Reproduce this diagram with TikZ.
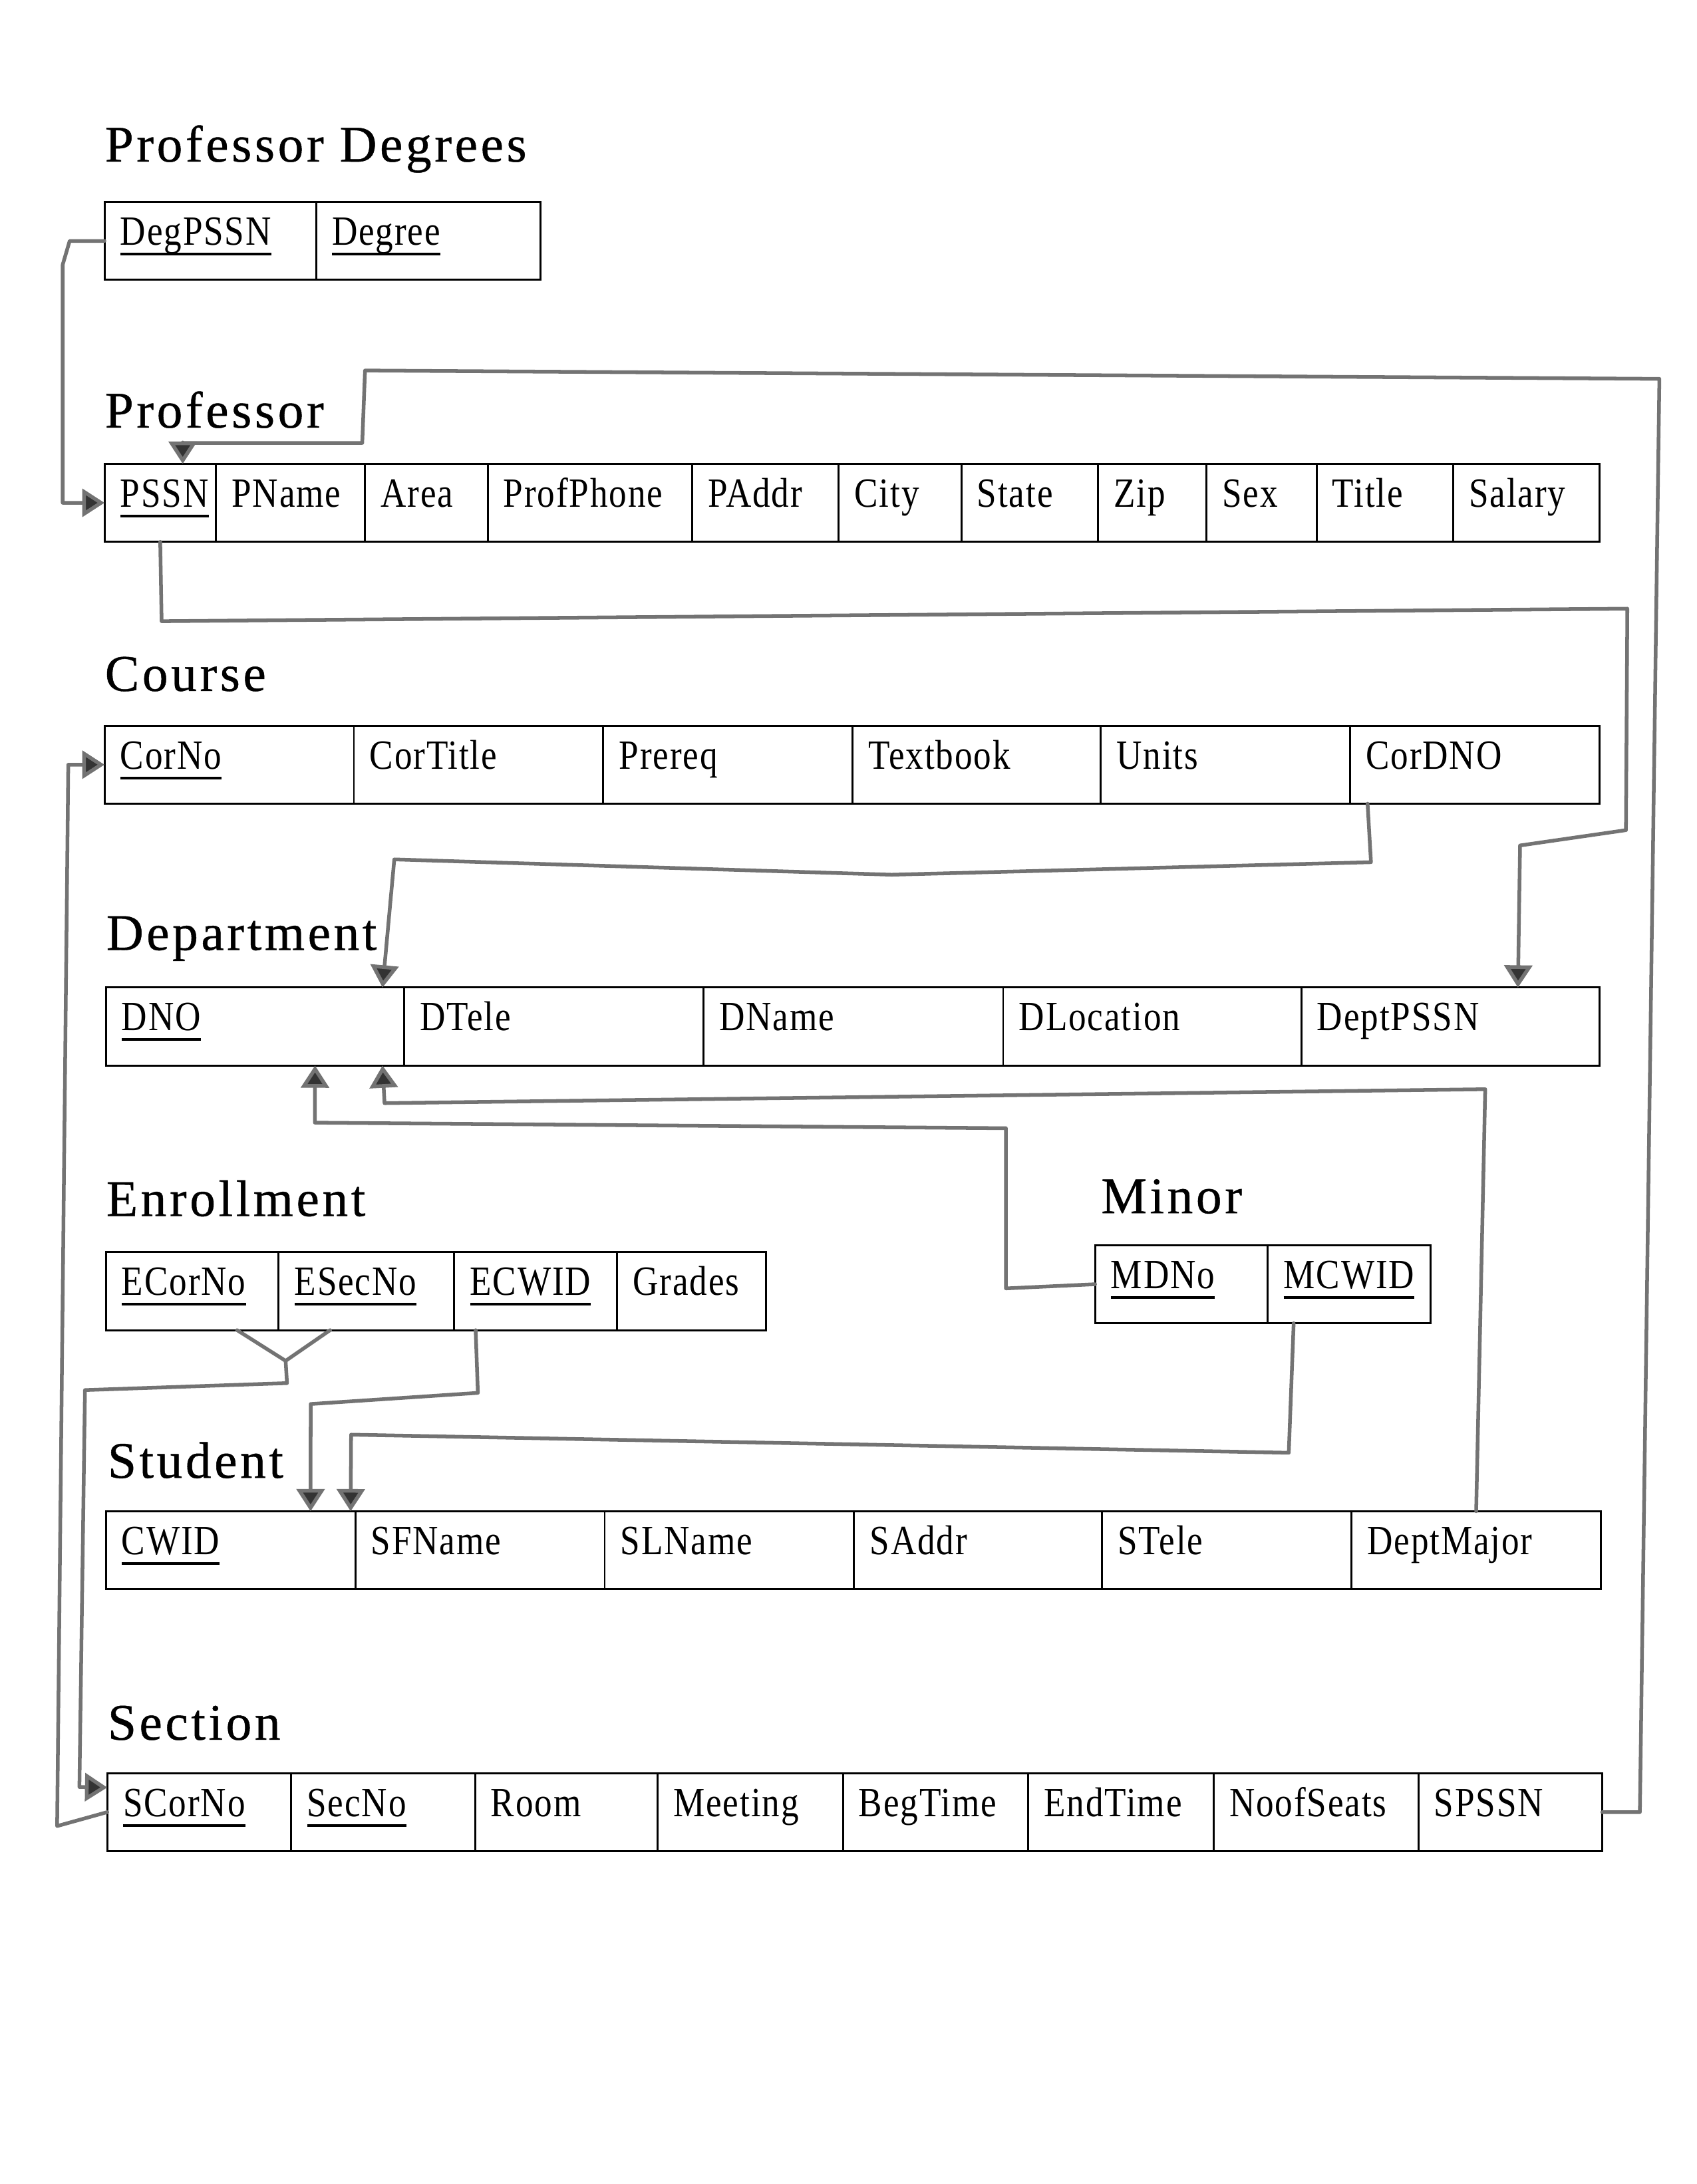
\documentclass[tikz,border=0pt]{standalone}
\usepackage{fontspec}
\setmainfont{Liberation Serif}
\newfontfamily\attrfont[FakeStretch=0.85,LetterSpace=3]{Liberation Serif}
\newfontfamily\relfont[LetterSpace=6,FakeBold=0.6]{Liberation Serif}
\usetikzlibrary{calc,arrows.meta}
\newcommand{\pk}[1]{\setbox0\hbox{#1}\rlap{\rule[-4.2pt]{\wd0}{1.1pt}}\box0}
\newcommand{\attrcell}[5]{%
	\node[attrbox, minimum width=#4*0.02cm, anchor=north west] (#1) at (#2,#3) {};
	\node[attrtext, anchor=base west] (#1-t) at ($(#1.north west)+(11,31)$) {#5};}
\tikzset{
	attrbox/.style={draw, line width=0.8pt, inner sep=0pt, outer sep=0pt, minimum height=1.12cm},
	attrtext/.style={inner sep=0pt, font=\attrfont\fontsize{17}{20}\selectfont},
	reltitle/.style={inner sep=0pt, anchor=base west, font=\relfont\fontsize{21}{25}\selectfont},
	fkline/.style={draw=black!55, line width=1.5pt, line cap=round, line join=round},
	fk/.style={fkline, -{Triangle[length=0.32cm, width=0.4cm, fill=black!80]}}
}

\begin{document}
\begin{tikzpicture}[x=0.02cm, y=-0.02cm]
			%%%%% START %%%%%
			
			\fill[white] (0,0) rectangle (1218,1568);
			\useasboundingbox (0,0) rectangle (1218,1568);
			
			% Professor Degrees
			\node[reltitle] (degtitle) at (75,116) {Professor Degrees};
			\attrcell{dpssn}{75}{145}{152}{\pk{DegPSSN}}
			\attrcell{degree}{227}{145}{161}{\pk{Degree}}
			
			% Professor
			\node[reltitle] (proftitle) at (75,307) {Professor};
			\attrcell{pssn}{75}{333}{80}{\pk{PSSN}}
			\attrcell{pname}{155}{333}{107}{PName}
			\attrcell{area}{262}{333}{88}{Area}
			\attrcell{profphone}{350}{333}{147}{ProfPhone}
			\attrcell{paddr}{497}{333}{105}{PAddr}
			\attrcell{city}{602}{333}{88}{City}
			\attrcell{state}{690}{333}{98}{State}
			\attrcell{zip}{788}{333}{78}{Zip}
			\attrcell{sex}{866}{333}{79}{Sex}
			\attrcell{ptitle}{945}{333}{98}{Title}
			\attrcell{salary}{1043}{333}{105}{Salary}
			
			% Course
			\node[reltitle] (cortitle) at (75,496) {Course};
			\attrcell{corno}{75}{521}{179}{\pk{CorNo}}
			\attrcell{cortit}{254}{521}{179}{CorTitle}
			\attrcell{prereq}{433}{521}{179}{Prereq}
			\attrcell{textbook}{612}{521}{178}{Textbook}
			\attrcell{units}{790}{521}{179}{Units}
			\attrcell{cordno}{969}{521}{179}{CorDNO}
			
			% Department
			\node[reltitle] (depttitle) at (76,682) {Department};
			\attrcell{dno}{76}{709}{214}{\pk{DNO}}
			\attrcell{dtele}{290}{709}{215}{DTele}
			\attrcell{dname}{505}{709}{215}{DName}
			\attrcell{dloc}{720}{709}{214}{DLocation}
			\attrcell{deptpssn}{934}{709}{214}{DeptPSSN}
			
			% Enrollment
			\node[reltitle] (enrtitle) at (76,873) {Enrollment};
			\attrcell{ecorno}{76}{899}{124}{\pk{ECorNo}}
			\attrcell{esecno}{200}{899}{126}{\pk{ESecNo}}
			\attrcell{ecwid}{326}{899}{117}{\pk{ECWID}}
			\attrcell{grades}{443}{899}{107}{Grades}
			
			% Minor
			\node[reltitle] (mintitle) at (790,871) {Minor};
			\attrcell{mdno}{786}{894}{124}{\pk{MDNo}}
			\attrcell{mcwid}{910}{894}{117}{\pk{MCWID}}
			
			% Student
			\node[reltitle] (stutitle) at (77,1061) {Student};
			\attrcell{cwid}{76}{1085}{179}{\pk{CWID}}
			\attrcell{sfname}{255}{1085}{179}{SFName}
			\attrcell{slname}{434}{1085}{179}{SLName}
			\attrcell{saddr}{613}{1085}{178}{SAddr}
			\attrcell{stele}{791}{1085}{179}{STele}
			\attrcell{deptmajor}{970}{1085}{179}{DeptMajor}
			
			% Section
			\node[reltitle] (sectitle) at (77,1249) {Section};
			\attrcell{scorno}{77}{1273}{132}{\pk{SCorNo}}
			\attrcell{secno}{209}{1273}{132}{\pk{SecNo}}
			\attrcell{room}{341}{1273}{131}{Room}
			\attrcell{meeting}{472}{1273}{133}{Meeting}
			\attrcell{begtime}{605}{1273}{133}{BegTime}
			\attrcell{endtime}{738}{1273}{133}{EndTime}
			\attrcell{seats}{871}{1273}{147}{NoofSeats}
			\attrcell{spssn}{1018}{1273}{132}{SPSSN}
			
			% foreign keys
			\draw[fk] (dpssn.west) -- (50,173) -- (45,190) |- (pssn.west);
			\draw[fk] (spssn.east) -- (1177,1301) -- (1191,272) -- (262,266) -- (260,318) -| (pssn.60);
			\draw[fk] (pssn.south) -- (116,446) -- (1168,437) -- (1167,596) -- (1091,607) -- (deptpssn.30);
			\draw[fk] (cordno.200) -- (984,619) -- (640,628) -- (283,617) -- (dno.17);
			\draw[fk] (scorno.west) -- (41,1311) -- (49,549) -- (corno.west);
			
			\coordinate (ejoin) at (205,977);
			\draw[fkline] (ecorno.319) -- (ejoin) -- (esecno.227);
			\draw[fk] (ejoin) -- (206,993) -- (61,998) -- (57,1283) -- (scorno.165);
			
			\draw[fk] (ecwid.213) -- (343,1000) -- (223,1008) -- (cwid.26);
			\draw[fk] (mcwid.215) -- (925,1043) -- (252,1030) -- (cwid.18);
			\draw[fk] (mdno.west) -- (722,925) -- (722,810) -- (226,806) -- (dno.-33);
			\draw[fk] (deptmajor.north) -- (1066,782) -- (276,792) -- (dno.-17);
			
			%%%%% END %%%%%
\end{tikzpicture}
\end{document}
